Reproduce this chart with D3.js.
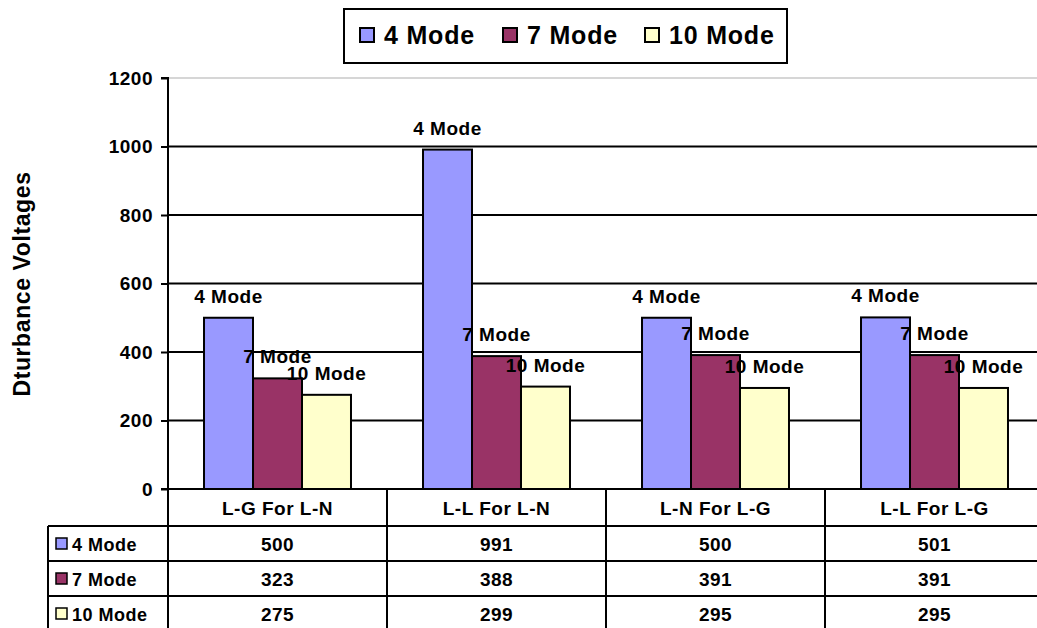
<!DOCTYPE html>
<html>
<head>
<meta charset="utf-8">
<script src="https://cdn.jsdelivr.net/npm/d3@7"></script>
<style>
  body { margin: 0; background: #fff; }
  svg { display: block; font-family: "Liberation Sans", Arial, sans-serif; font-weight: bold; }
</style>
</head>
<body>
<div id="chart"></div>
<script>
var categories = ['L-G For L-N', 'L-L For L-N', 'L-N For L-G', 'L-L For L-G']
var series = ['4 Mode', '7 Mode', '10 Mode']
var mode4 = [500, 991, 500, 501]
var mode7 = [323, 388, 391, 391]
var mode10 = [275, 299, 295, 295]
var yTicks = [0, 200, 400, 600, 800, 1000, 1200]
var colors = ['#9999ff', '#993366', '#ffffcc']

var values = [mode4, mode7, mode10]

var width = 1037, height = 628
var svg = d3.select('#chart').append('svg')
  .attr('width', width).attr('height', height)

var x = d3.scaleBand().domain(categories).range([168, 1044])
var xs = d3.scaleBand().domain(series).range([0, x.bandwidth()]).paddingOuter(0.735)
var y = d3.scaleLinear().domain([0, 1200]).range([489, 78])

// gridlines
svg.append('g').selectAll('line').data(yTicks.filter(d => d > 0)).join('line')
  .attr('x1', 168).attr('x2', width)
  .attr('y1', d => y(d)).attr('y2', d => y(d))
  .attr('stroke', d => d == 1200 ? '#c8c8c8' : '#000')
  .attr('stroke-width', d => d == 1200 ? 1.5 : 2)

// bars
var groups = svg.append('g').selectAll('g').data(series).join('g')
groups.each(function(s, si){
  d3.select(this).selectAll('rect').data(categories).join('rect')
    .attr('x', c => x(c) + xs(s))
    .attr('y', (c, i) => y(values[si][i]))
    .attr('width', xs.bandwidth())
    .attr('height', (c, i) => y(0) - y(values[si][i]))
    .attr('fill', colors[si])
    .attr('stroke', '#000').attr('stroke-width', 2)
})

// data labels
groups.each(function(s, si){
  d3.select(this).selectAll('text').data(categories).join('text')
    .attr('x', c => x(c) + xs(s) + xs.bandwidth() / 2)
    .attr('y', (c, i) => y(values[si][i]) - 15)
    .attr('text-anchor', 'middle')
    .style('font-size', '19px').style('letter-spacing', '0.5px')
    .text(s)
})

// y axis
var yAxis = d3.axisLeft(y).tickValues(yTicks).tickFormat(d3.format('d')).tickSize(7).tickPadding(8)
var ya = svg.append('g').attr('transform', 'translate(168,0)').call(yAxis)
ya.select('.domain').attr('stroke-width', 2).attr('d', 'M-7,78H0V489')
ya.selectAll('.tick line').attr('stroke-width', 2)
ya.selectAll('.tick text')
  .style('font-size', '19px').style('letter-spacing', '0.5px')
  .style('font-family', '"Liberation Sans", Arial, sans-serif').style('font-weight', 'bold')
  .attr('fill', '#000')

svg.append('text')
  .attr('transform', 'translate(30,284) rotate(-90)')
  .attr('text-anchor', 'middle')
  .style('font-size', '23px').style('letter-spacing', '0.6px')
  .text('Dturbance Voltages')

// x axis baseline
svg.append('line').attr('x1', 161).attr('x2', width)
  .attr('y1', y(0)).attr('y2', y(0)).attr('stroke', '#000').attr('stroke-width', 2)

// data table
var rowH = 35
var tTop = y(0), rTop = tTop + 37
var t = svg.append('g')
var hLines = series.map((s, i) => rTop + i * rowH)
t.selectAll('line.h').data(hLines).join('line')
  .attr('x1', 48).attr('x2', width)
  .attr('y1', d => d).attr('y2', d => d)
  .attr('stroke', '#000').attr('stroke-width', 2)
var vLines = categories.map(c => x(c))
t.selectAll('line.v').data(vLines).join('line')
  .attr('x1', d => d).attr('x2', d => d)
  .attr('y1', tTop).attr('y2', height)
  .attr('stroke', '#000').attr('stroke-width', 2)
t.append('line').attr('x1', 48).attr('x2', 48)
  .attr('y1', rTop).attr('y2', height).attr('stroke', '#000').attr('stroke-width', 2)

t.selectAll('text.cat').data(categories).join('text')
  .attr('x', c => x(c) + x.bandwidth() / 2).attr('y', tTop + 26)
  .attr('text-anchor', 'middle')
  .style('font-size', '19px').style('letter-spacing', '0.5px')
  .text(c => c)

series.forEach(function(s, si){
  var yy = rTop + si * rowH
  t.append('rect').attr('x', 56).attr('y', yy + 12).attr('width', 11).attr('height', 11)
    .attr('fill', colors[si]).attr('stroke', '#000').attr('stroke-width', 1.5)
  t.append('text').attr('x', 72).attr('y', yy + 25)
    .style('font-size', '18px').style('letter-spacing', '0.5px').text(s)
  t.selectAll('text.v' + si).data(categories).join('text')
    .attr('x', c => x(c) + x.bandwidth() / 2).attr('y', yy + 25)
    .attr('text-anchor', 'middle')
    .style('font-size', '19px').style('letter-spacing', '0.5px')
    .text((c, i) => values[si][i])
})

// legend
var lg = svg.append('g')
lg.append('rect').attr('x', 344).attr('y', 9).attr('width', 443).attr('height', 54)
  .attr('fill', '#fff').attr('stroke', '#000').attr('stroke-width', 2)
var legX = [360, 503, 645]
series.forEach(function(s, si){
  lg.append('rect').attr('x', legX[si]).attr('y', 28).attr('width', 14).attr('height', 14)
    .attr('fill', colors[si]).attr('stroke', '#000').attr('stroke-width', 2)
  lg.append('text').attr('x', legX[si] + 24).attr('y', 44)
    .style('font-size', '25px').style('letter-spacing', '0.8px').text(s)
})
</script>
</body>
</html>
